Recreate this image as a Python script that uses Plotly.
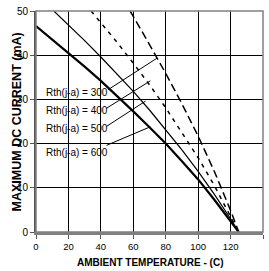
import plotly.graph_objects as go

# Ambient temperature (C) and maximum DC current (mA)
t_600 = [0, 10, 20, 30, 40, 50, 60, 70, 80, 90, 100, 110, 120, 125]
i_600 = [46.6, 43.6, 40.5, 37.4, 34.2, 30.8, 27.3, 23.7, 20.0, 16.0, 11.9, 7.3, 2.6, 0]

t_500 = [11, 20, 30, 40, 50, 60, 70, 80, 90, 100, 110, 120, 125]
i_500 = [50.0, 46.9, 43.3, 39.6, 35.8, 31.8, 27.6, 23.2, 18.6, 13.7, 8.5, 3.0, 0]

t_400 = [34, 40, 50, 60, 70, 80, 90, 100, 110, 120, 125]
i_400 = [50.0, 47.4, 42.9, 38.2, 33.3, 28.1, 22.6, 16.8, 10.5, 3.7, 0]

t_300 = [58, 60, 70, 80, 90, 100, 110, 120, 125]
i_300 = [50.0, 48.8, 42.4, 35.9, 29.0, 21.7, 13.7, 4.9, 0]

labels = ["Rth(j-a) = 300", "Rth(j-a) = 400", "Rth(j-a) = 500", "Rth(j-a) = 600"]
label_x = [4.9, 4.9, 4.9, 4.9]
label_y = [31.6, 27.4, 23.5, 17.9]

# leader lines: start (near label) and end (on curve), data units
lead_x0 = [44.5, 43.5, 43.5, 43.5]
lead_y0 = [32.2, 28.0, 23.9, 19.6]
lead_x1 = [74.5, 70.5, 67.5, 70.5]
lead_y1 = [39.3, 34.2, 29.6, 23.8]

x_ticks = [0, 20, 40, 60, 80, 100, 120, 140]
y_ticks = [0, 10, 20, 30, 40, 50]

FONT = "Liberation Sans, Arial, sans-serif"

fig = go.Figure()

for t, i, w, d in [
    (t_600, i_600, 2.2, "solid"),
    (t_500, i_500, 1.2, "solid"),
    (t_400, i_400, 1.5, "4px,5px"),
    (t_300, i_300, 1.5, "8px,4px"),
]:
    fig.add_trace(go.Scatter(x=t, y=i, mode="lines",
                             line=dict(color="black", width=w, dash=d),
                             showlegend=False, hoverinfo="skip"))

for k in range(len(labels)):
    fig.add_trace(go.Scatter(x=[lead_x0[k], lead_x1[k]], y=[lead_y0[k], lead_y1[k]], mode="lines",
                             line=dict(color="black", width=1), showlegend=False, hoverinfo="skip"))
    fig.add_annotation(x=label_x[k], y=label_y[k], text=labels[k], showarrow=False, xanchor="left",
                       yanchor="middle", font=dict(family=FONT, size=10, color="black"))

fig.add_shape(type="rect", xref="paper", yref="paper", x0=0, y0=0, x1=1, y1=1,
              line=dict(color="#808080", width=1.5), layer="above")

# axis titles
fig.add_annotation(xref="paper", yref="paper", x=0.5, y=-0.14, text="<b>AMBIENT TEMPERATURE - (C)</b>",
                   showarrow=False, xanchor="center", yanchor="middle",
                   font=dict(family=FONT, size=10, color="black"))
fig.add_annotation(xref="paper", yref="paper", x=-0.084, y=0.5, text="<b>MAXIMUM DC CURRENT (mA)</b>",
                   showarrow=False, xanchor="center", yanchor="middle", textangle=-90,
                   font=dict(family=FONT, size=12.5, color="black"))

fig.update_layout(
    width=269, height=271,
    margin=dict(l=36, r=6, t=11, b=39),
    paper_bgcolor="white", plot_bgcolor="white",
    font=dict(family=FONT, size=10, color="black"),
    xaxis=dict(range=[0, 140], tickvals=x_ticks, ticks="outside", ticklen=4, tickcolor="#555",
               showgrid=True, gridcolor="black", gridwidth=1, zeroline=False, automargin=False,
               showline=True, linecolor="#808080", linewidth=3,
               tickfont=dict(size=9.5)),
    yaxis=dict(range=[0, 50], tickvals=y_ticks, ticks="outside", ticklen=4, tickcolor="#555",
               showgrid=True, gridcolor="black", gridwidth=1, zeroline=False, automargin=False,
               showline=True, linecolor="#555", linewidth=2,
               tickfont=dict(size=10)),
)

fig.write_html("out.html", config={"displayModeBar": False, "staticPlot": True},
               post_script="document.body.style.margin='0';document.body.style.overflow='hidden';")
